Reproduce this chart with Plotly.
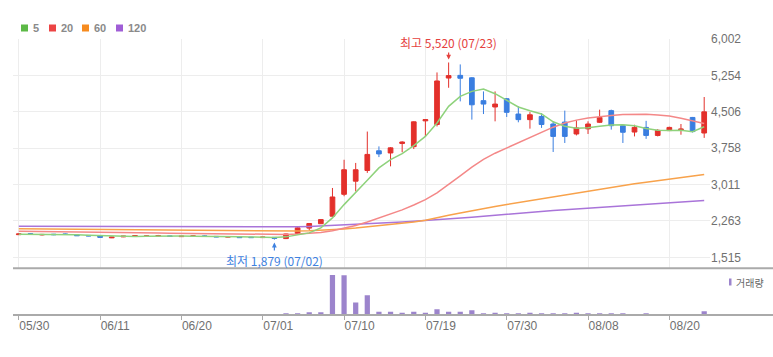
import plotly.graph_objects as go

# ---------------- data ----------------
DATES = ["05/30", "05/31", "06/03", "06/04", "06/05", "06/07", "06/10", "06/11", "06/12", "06/13",
         "06/14", "06/17", "06/18", "06/19", "06/20", "06/21", "06/24", "06/25", "06/26", "06/27",
         "06/28", "07/01", "07/02", "07/03", "07/04", "07/05", "07/08", "07/09", "07/10", "07/11",
         "07/12", "07/15", "07/16", "07/17", "07/18", "07/19", "07/22", "07/23", "07/24", "07/25",
         "07/26", "07/29", "07/30", "07/31", "08/01", "08/02", "08/05", "08/06", "08/07", "08/08",
         "08/09", "08/12", "08/13", "08/14", "08/16", "08/19", "08/20", "08/21", "08/22", "08/23"]

OPEN = [1980, 2000, 1975, 1990, 1995, 1975, 1965, 1955, 1915, 1935,
        1945, 1945, 1955, 1955, 1940, 1945, 1955, 1945, 1930, 1935,
        1930, 1920, 1925, 1900, 2005, 2115, 2205, 2360, 2810, 3080,
        3300, 3705, 3660, 3855, 3790, 4320, 4245, 5200, 5255, 5205,
        4735, 4605, 4775, 4460, 4345, 4410, 4255, 4295, 4050, 4155,
        4290, 4530, 4220, 4090, 4185, 4020, 4120, 4135, 4390, 4070]
HIGH = [2005, 2010, 1995, 1995, 2005, 1980, 1970, 1960, 1935, 1955,
        1965, 1965, 1975, 1960, 1955, 1965, 1965, 1950, 1945, 1940,
        1935, 1935, 1930, 2000, 2150, 2215, 2295, 2940, 3520, 3455,
        4100, 3795, 3780, 3900, 4310, 4355, 5315, 5520, 5480, 5220,
        4925, 4925, 4790, 4620, 4500, 4480, 4310, 4530, 4330, 4310,
        4550, 4550, 4230, 4240, 4320, 4150, 4200, 4255, 4400, 4810]
LOW = [1975, 1980, 1965, 1970, 1975, 1955, 1950, 1920, 1910, 1930,
       1940, 1940, 1945, 1940, 1935, 1940, 1940, 1930, 1925, 1915,
       1915, 1915, 1879, 1890, 1990, 2070, 2200, 2350, 2770, 2870,
       3250, 3575, 3385, 3675, 3740, 3990, 4205, 5000, 4720, 4345,
       4460, 4310, 4400, 4290, 4160, 4175, 3680, 3865, 4020, 4050,
       4275, 4140, 3865, 4000, 3950, 4000, 4110, 4035, 4080, 3970]
CLOSE = [1995, 1990, 1985, 1980, 1985, 1960, 1955, 1925, 1930, 1950,
         1960, 1955, 1960, 1945, 1950, 1955, 1945, 1935, 1940, 1920,
         1920, 1930, 1905, 1995, 2120, 2210, 2290, 2755, 3315, 3315,
         3630, 3640, 3765, 3885, 4300, 4345, 5140, 5250, 5195, 4650,
         4665, 4665, 4495, 4345, 4445, 4245, 4000, 4000, 4175, 4255,
         4390, 4220, 4085, 4185, 4020, 4125, 4185, 4150, 4100, 4505]

MA5 = [1990, 1990, 1988, 1986, 1985, 1978, 1970, 1960, 1952, 1945,
       1945, 1947, 1952, 1955, 1952, 1950, 1950, 1948, 1944, 1940,
       1934, 1930, 1922, 1935, 1969, 2017, 2120, 2325, 2598, 2838,
       3098, 3352, 3523, 3646, 3810, 4001, 4277, 4618, 4823, 4926,
       4975, 4878, 4740, 4605, 4529, 4461, 4300, 4207, 4170, 4180,
       4207, 4235, 4240, 4220, 4165, 4125, 4120, 4125, 4095, 4200]
MA20 = [2052, 2050, 2047, 2045, 2043, 2040, 2036, 2032, 2028, 2024,
        2020, 2017, 2014, 2010, 2006, 2002, 1998, 1995, 1992, 1990,
        1988, 1985, 1983, 1985, 1992, 2003, 2025, 2060, 2110, 2170,
        2240, 2320, 2400, 2490, 2590, 2700, 2840, 3010, 3190, 3370,
        3530, 3655, 3765, 3875, 3980, 4085, 4190, 4275, 4335, 4378,
        4408, 4430, 4448, 4460, 4458, 4442, 4418, 4372, 4315, 4265]
MA60 = [2100, 2098, 2095, 2093, 2090, 2088, 2086, 2083, 2080, 2078,
        2076, 2073, 2070, 2068, 2066, 2064, 2062, 2060, 2058, 2056,
        2054, 2052, 2050, 2052, 2056, 2062, 2070, 2082, 2098, 2116,
        2138, 2160, 2185, 2212, 2240, 2275, 2320, 2380, 2428, 2475,
        2518, 2560, 2600, 2640, 2680, 2720, 2760, 2800, 2838, 2876,
        2914, 2952, 2990, 3028, 3060, 3090, 3120, 3152, 3184, 3215]
MA120 = [2152, 2151, 2150, 2149, 2148, 2147, 2146, 2145, 2144, 2143,
         2142, 2141, 2140, 2139, 2138, 2137, 2136, 2135, 2134, 2133,
         2132, 2132, 2132, 2136, 2142, 2150, 2160, 2170, 2182, 2194,
         2206, 2218, 2230, 2243, 2256, 2270, 2285, 2300, 2318, 2338,
         2358, 2380, 2402, 2425, 2443, 2460, 2477, 2494, 2510, 2525,
         2540, 2555, 2570, 2585, 2600, 2617, 2633, 2649, 2665, 2681]

VOLUME = [9000, 8000, 9000, 7000, 8000, 9000, 8000, 12000, 9000, 8000,
          8000, 9000, 8000, 8000, 7000, 8000, 7000, 7000, 8000, 9000,
          8000, 9000, 12000, 85000, 85000, 135000, 135000, 2010000, 1995000, 635000,
          1000000, 165000, 165000, 115000, 165000, 115000, 285000, 165000, 165000, 235000,
          75000, 115000, 65000, 65000, 110000, 60000, 60000, 60000, 110000, 60000,
          60000, 60000, 60000, 25000, 55000, 20000, 20000, 20000, 25000, 190000]

Y_TICKS = [1515, 2263, 3011, 3758, 4506, 5254, 6002]
X_TICKS = ["05/30", "06/11", "06/20", "07/01", "07/10", "07/19", "07/30", "08/08", "08/20"]
MA_NAMES = ["5", "20", "60", "120"]
HIGH_LABEL = "최고 5,520 (07/23)"
LOW_LABEL = "최저 1,879 (07/02)"
VOL_LABEL = "거래량"

# ---------------- style ----------------
W, H = 773, 357
ML, MR, MT, MB = 13, 63, 39, 42
PW, PH = W - ML - MR, H - MT - MB
SPLIT = 268.3  # pixel y of separator


def px(x):
    return (x - ML) / PW


def py(y):
    return (H - MB - y) / PH


UP = "#e3302b"
DOWN = "#3a7ee0"
MA_LINE = ["#8fd27c", "#f48888", "#f8a24b", "#a974d9"]
MA_KEY = ["#5cb946", "#ec4444", "#f68b1f", "#a05ed6"]
VOL_COLOR = "#9c84cc"
GRID = "#ededed"
AXIS = "#aaaaaa"
TXT = "#707070"

fig = go.Figure()

for name, vals, col in zip(MA_NAMES[::-1], [MA120, MA60, MA20, MA5], MA_LINE[::-1]):
    fig.add_trace(go.Scatter(x=DATES, y=vals, mode="lines", name=name,
                             line=dict(color=col, width=1.5), hoverinfo="skip",
                             showlegend=False, xaxis="x", yaxis="y"))

fig.add_trace(go.Candlestick(
    x=DATES, open=OPEN, high=HIGH, low=LOW, close=CLOSE,
    increasing=dict(line=dict(color=UP, width=1), fillcolor=UP),
    decreasing=dict(line=dict(color=DOWN, width=1), fillcolor=DOWN),
    showlegend=False, xaxis="x", yaxis="y"))

fig.add_trace(go.Bar(x=DATES, y=VOLUME, marker=dict(color=VOL_COLOR, line=dict(width=0)),
                     width=0.45, showlegend=False, xaxis="x2", yaxis="y2"))

main_bottom = py(SPLIT)

fig.update_layout(
    width=W, height=H,
    margin=dict(l=ML, r=MR, t=MT, b=MB),
    paper_bgcolor="white", plot_bgcolor="white",
    font=dict(family="Liberation Sans, Arial, sans-serif", size=12, color=TXT),
    boxgap=0.42,
    xaxis=dict(type="category", categoryorder="array", categoryarray=DATES,
               range=[-0.5, len(DATES) - 0.5], domain=[0, 1], anchor="y",
               showgrid=True, gridcolor=GRID, gridwidth=1,
               tickmode="array", tickvals=X_TICKS, showticklabels=False,
               ticks="", showline=False, zeroline=False,
               rangeslider=dict(visible=False), fixedrange=True),
    yaxis=dict(domain=[main_bottom, 1], anchor="x", side="right",
               range=[1289, 6002.5], tickmode="array", tickvals=Y_TICKS,
               tickformat=",d", showgrid=True, gridcolor=GRID, gridwidth=1,
               zeroline=False, showline=False, ticks="",
               tickfont=dict(size=12, color=TXT)),
    xaxis2=dict(type="category", categoryorder="array", categoryarray=DATES,
                range=[-0.5, len(DATES) - 0.5], domain=[0, 1], anchor="y2",
                matches="x", showgrid=False, tickmode="array", tickvals=X_TICKS,
                ticks="outside", ticklen=4, tickcolor=AXIS, tickwidth=1,
                ticklabelposition="outside right",
                tickfont=dict(size=12, color=TXT), showline=False, zeroline=False),
    yaxis2=dict(domain=[0, main_bottom], anchor="x2", range=[0, 2350000],
                showgrid=False, showticklabels=False, zeroline=False, ticks="",
                showline=False),
    hovermode=False,
)

shapes = []
# separator and baseline
shapes.append(dict(type="line", xref="paper", yref="paper", x0=0, x1=px(W), y0=main_bottom,
                   y1=main_bottom, line=dict(color=AXIS, width=2)))
shapes.append(dict(type="line", xref="paper", yref="paper", x0=0, x1=px(W), y0=0,
                   y1=0, line=dict(color=AXIS, width=2)))

annotations = []
# MA legend
key_x = [21, 49, 82, 116]
for kx, name, col in zip(key_x, MA_NAMES, MA_KEY):
    shapes.append(dict(type="rect", xref="paper", yref="paper", x0=px(kx), x1=px(kx + 7),
                       y0=py(31.5), y1=py(24.5), line=dict(width=0), fillcolor=col))
    annotations.append(dict(xref="paper", yref="paper", x=px(kx + 9.5), y=py(28),
                            xanchor="left", yanchor="middle", showarrow=False,
                            text="<b>%s</b>" % name,
                            font=dict(size=11, color="#8a8a8a",
                                      family="Liberation Sans, Arial, sans-serif")))

# volume legend
shapes.append(dict(type="rect", xref="paper", yref="paper", x0=px(729), x1=px(731.5),
                   y0=py(285.5), y1=py(278.5), line=dict(width=0), fillcolor=VOL_COLOR))
annotations.append(dict(xref="paper", yref="paper", x=px(734), y=py(282), xanchor="left",
                        yanchor="middle", showarrow=False, text=VOL_LABEL,
                        font=dict(size=10, color="#666666", family="Noto Sans CJK KR")))

# high / low markers
hi_idx = HIGH.index(max(HIGH))
lo_idx = LOW.index(min(LOW))
annotations.append(dict(x=DATES[hi_idx], y=HIGH[hi_idx], xref="x", yref="y",
                        text=HIGH_LABEL, showarrow=True, arrowhead=2, arrowsize=0.8,
                        arrowwidth=1.2, arrowcolor="#e5413e", ax=0, ay=-20, standoff=3,
                        font=dict(size=12, color="#e5413e", family="Noto Sans CJK KR")))
annotations.append(dict(x=DATES[lo_idx], y=LOW[lo_idx], xref="x", yref="y",
                        text=LOW_LABEL, showarrow=True, arrowhead=2, arrowsize=0.8,
                        arrowwidth=1.2, arrowcolor="#3f82e0", ax=0, ay=21, standoff=3,
                        font=dict(size=12, color="#3f82e0", family="Noto Sans CJK KR")))

fig.update_layout(shapes=shapes, annotations=annotations)

fig.write_html("out.html", config=dict(displayModeBar=False),
               post_script="document.body.style.margin='0';document.body.style.padding='0';")
